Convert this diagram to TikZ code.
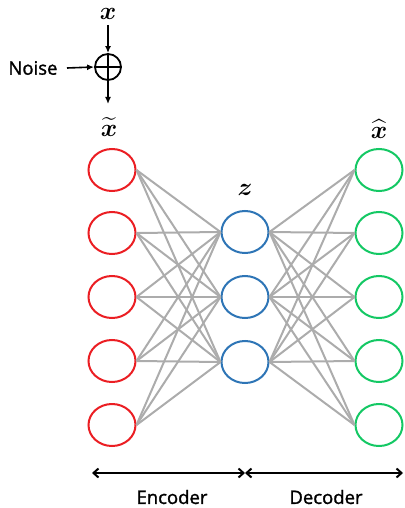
\RequirePackage{fix-cm}
\documentclass[tikz,border=0pt]{standalone}
\usepackage{amsmath,bm}
\usepackage{fontspec}
\setmainfont{Open Sans}[FakeBold=1.4]
\usetikzlibrary{arrows.meta,shapes.geometric}
\definecolor{inred}{RGB}{235,30,35}
\definecolor{zblue}{RGB}{46,117,182}
\definecolor{outgreen}{RGB}{20,200,100}
\definecolor{wire}{RGB}{172,172,172}
\tikzset{
  unit/.style={ellipse,draw,line width=2pt,fill=white,minimum width=47pt,minimum height=42pt,inner sep=0pt},
  inunit/.style={unit,draw=inred},
  zunit/.style={unit,draw=zblue},
  outunit/.style={unit,draw=outgreen},
  link/.style={draw=wire,line width=2pt},
  flow/.style={line width=1.6pt,-{Latex[length=7pt,width=6pt]}},
  span/.style={line width=2pt,{Straight Barb[length=5pt,width=9pt]}-{Straight Barb[length=5pt,width=9pt]}},
  lbl/.style={font=\fontsize{18.5}{20}\selectfont},
  sym/.style={font=\fontsize{25}{27}\selectfont,inner sep=0pt}
}
\begin{document}
\begin{tikzpicture}[x={(1pt,0)},y={(0,-1pt)}]
\useasboundingbox (0,0) rectangle (404,508);
% noisy input
\node[sym] (x) at (108,14) {$\bm{x}$};
\node[circle,draw,line width=1.8pt,minimum size=26pt,inner sep=0pt] (sum) at (108,67) {};
\draw[line width=1.8pt] (sum.north) -- (sum.south) (sum.west) -- (sum.east);
\node[lbl,anchor=east] (noise) at (61,68) {Noise};
\coordinate (xs) at (108,25);
\draw[flow] (xs) -- (sum.north);
\coordinate (ns) at (67,68);
\draw[flow] (ns) -- (sum.west);
\coordinate (sumout) at (108,104);
\draw[flow] (sum.south) -- (sumout);
% layers
\foreach \i/\y in {1/170,2/233,3/297,4/361,5/425}{
  \node[inunit] (r\i) at (112,\y) {};
  \node[outunit] (g\i) at (379,\y) {};
}
\foreach \j/\y in {1/232,2/297,3/362}{
  \node[zunit] (b\j) at (245,\y) {};
}
\foreach \i in {1,...,5}{
  \foreach \j in {1,2,3}{
    \draw[link] (r\i.east) -- (b\j.west);
    \draw[link] (b\j.east) -- (g\i.west);
  }
}
% layer labels
\node[sym] (xt) at (109,127) {$\widetilde{\bm{x}}$};
\node[sym] (zl) at (245,190) {$\bm{z}$};
\node[sym] (xh) at (379,129) {$\widehat{\bm{x}}$};
% encoder / decoder extent
\coordinate (ea) at (92,473);
\coordinate (em) at (245,473);
\coordinate (db) at (403,473);
\draw[span] (ea) -- (em);
\draw[span] (em) -- (db);
\node[lbl] (enc) at (172,497) {Encoder};
\node[lbl] (dec) at (326,497) {Decoder};
\end{tikzpicture}
\end{document}
